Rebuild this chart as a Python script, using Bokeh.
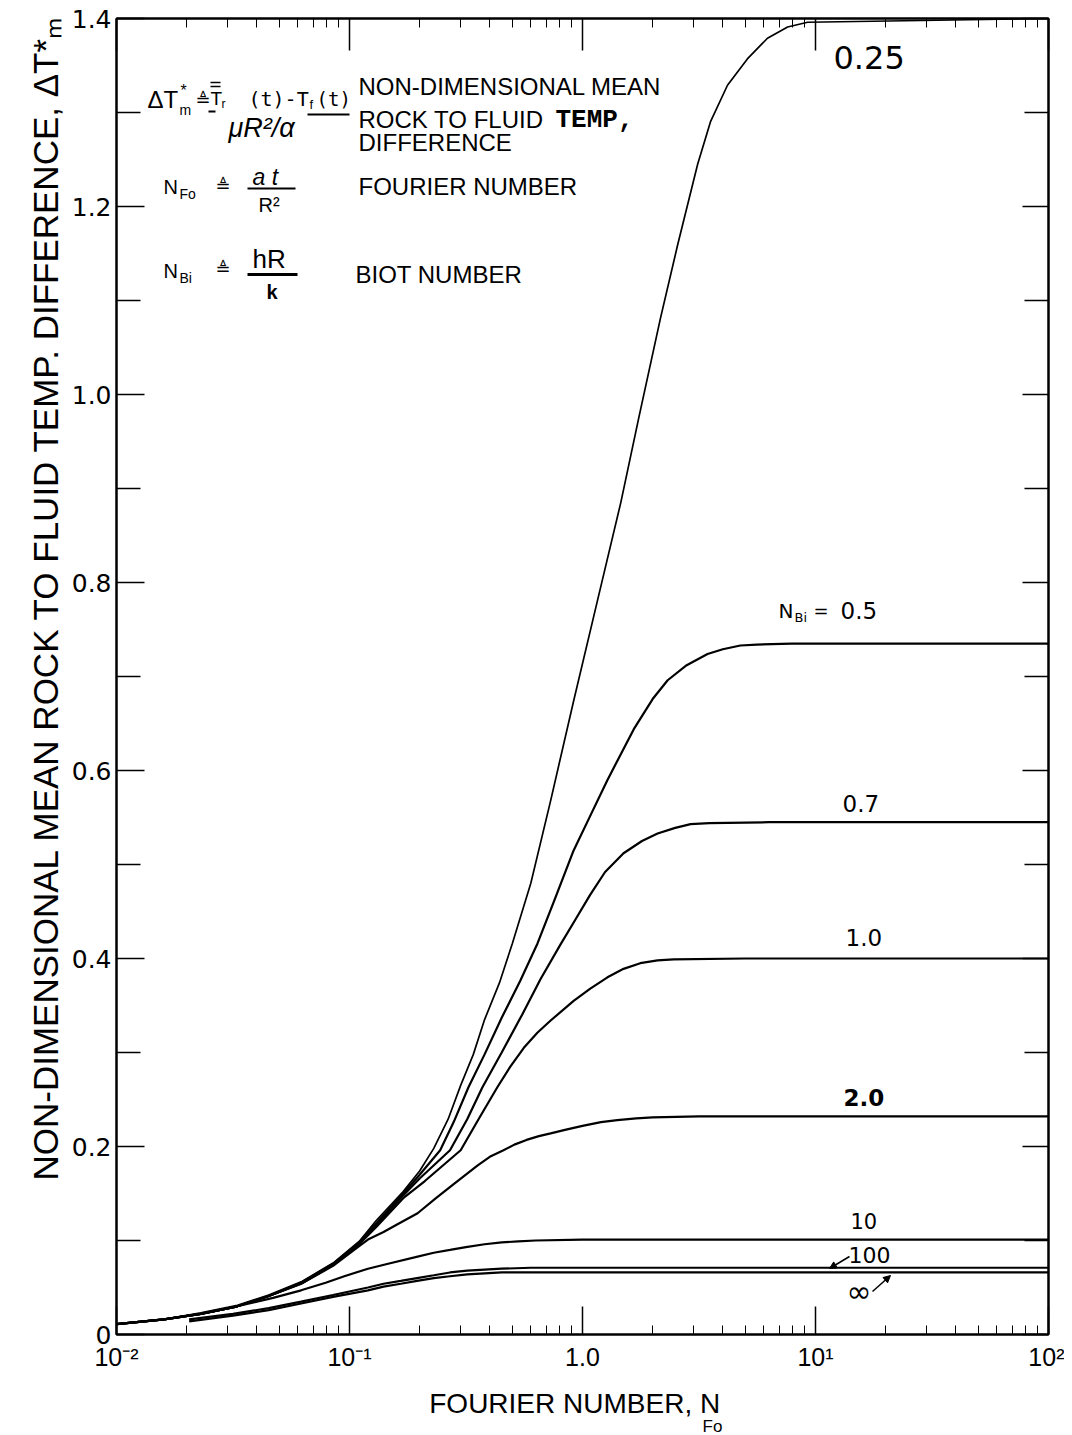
from bokeh.plotting import figure
from bokeh.models import (Range1d, LogAxis, LinearAxis, FixedTicker, Label, Title,
                          BoxAnnotation, Arrow, NormalHead)
from bokeh.embed import file_html
from bokeh.resources import INLINE

# ---------------- data ----------------
nfo_025 = [0.01, 0.016, 0.023, 0.033, 0.045, 0.062, 0.085, 0.11, 0.13, 0.17, 0.20, 0.23,
           0.265, 0.30, 0.34, 0.38, 0.44, 0.50, 0.60, 0.73, 0.916, 1.16, 1.46, 1.74, 2.16,
           2.56, 2.82, 3.12, 3.54, 4.19, 5.1, 6.22, 7.59, 9.25, 100]
dt_025 = [0.011, 0.016, 0.023, 0.031, 0.042, 0.056, 0.076, 0.099, 0.121, 0.152, 0.174, 0.198,
          0.229, 0.265, 0.298, 0.335, 0.374, 0.416, 0.480, 0.568, 0.674, 0.781, 0.885, 0.974,
          1.081, 1.159, 1.201, 1.245, 1.290, 1.329, 1.357, 1.379, 1.391, 1.396, 1.40]

nfo_05 = [0.01, 0.016, 0.023, 0.033, 0.045, 0.062, 0.085, 0.11, 0.13, 0.17, 0.20, 0.245,
          0.28, 0.324, 0.38, 0.45, 0.54, 0.641, 0.76, 0.916, 1.1, 1.28, 1.66, 2.0, 2.32, 2.8,
          3.44, 4.0, 4.76, 5.6, 7.9, 100]
dt_05 = [0.011, 0.016, 0.022, 0.030, 0.041, 0.055, 0.075, 0.098, 0.118, 0.150, 0.170, 0.196,
         0.226, 0.263, 0.298, 0.337, 0.376, 0.416, 0.463, 0.515, 0.556, 0.590, 0.644, 0.676,
         0.696, 0.712, 0.724, 0.729, 0.733, 0.734, 0.735, 0.735]

nfo_07 = [0.01, 0.016, 0.023, 0.033, 0.045, 0.062, 0.085, 0.11, 0.13, 0.17, 0.20, 0.27,
          0.32, 0.372, 0.45, 0.55, 0.66, 0.805, 0.93, 1.08, 1.25, 1.5, 1.8, 2.1, 2.5, 2.91,
          3.5, 6.3, 100]
dt_07 = [0.011, 0.016, 0.022, 0.030, 0.041, 0.055, 0.075, 0.097, 0.116, 0.148, 0.166, 0.196,
         0.229, 0.263, 0.300, 0.340, 0.378, 0.415, 0.441, 0.468, 0.492, 0.512, 0.525, 0.533,
         0.539, 0.543, 0.544, 0.545, 0.545]

nfo_10 = [0.01, 0.016, 0.023, 0.033, 0.045, 0.062, 0.085, 0.11, 0.13, 0.17, 0.21, 0.30,
          0.36, 0.431, 0.49, 0.56, 0.64, 0.73, 0.916, 1.08, 1.28, 1.5, 1.77, 2.1, 2.46, 5.0,
          100]
dt_10 = [0.011, 0.016, 0.022, 0.030, 0.041, 0.054, 0.074, 0.096, 0.114, 0.145, 0.163, 0.196,
         0.230, 0.263, 0.285, 0.305, 0.321, 0.334, 0.355, 0.368, 0.380, 0.389, 0.395, 0.398,
         0.399, 0.400, 0.400]

nfo_20 = [0.01, 0.016, 0.023, 0.033, 0.045, 0.062, 0.085, 0.11, 0.12, 0.14, 0.16, 0.196,
          0.235, 0.28, 0.355, 0.40, 0.458, 0.51, 0.575, 0.65, 0.73, 0.85, 1.0, 1.2, 1.41, 1.7,
          2.0, 3.16, 100]
dt_20 = [0.011, 0.016, 0.022, 0.030, 0.041, 0.054, 0.073, 0.094, 0.101, 0.109, 0.117, 0.129,
         0.145, 0.160, 0.180, 0.189, 0.196, 0.202, 0.207, 0.211, 0.214, 0.218, 0.222, 0.226,
         0.228, 0.230, 0.231, 0.232, 0.232]

nfo_100b = [0.01, 0.016, 0.023, 0.033, 0.047, 0.062, 0.079, 0.095, 0.12, 0.145, 0.19, 0.23,
            0.27, 0.316, 0.38, 0.45, 0.53, 0.63, 1.0, 100]
dt_100b = [0.011, 0.016, 0.022, 0.030, 0.039, 0.047, 0.055, 0.062, 0.070, 0.075, 0.082, 0.087,
           0.090, 0.093, 0.096, 0.098, 0.099, 0.100, 0.101, 0.101]

nfo_1000 = [0.0205, 0.0316, 0.045, 0.062, 0.085, 0.12, 0.14, 0.166, 0.195, 0.23, 0.27, 0.32,
            0.38, 0.45, 0.6, 1.0, 100]
dt_1000 = [0.016, 0.022, 0.028, 0.035, 0.042, 0.050, 0.054, 0.057, 0.060, 0.063, 0.066, 0.068,
           0.069, 0.070, 0.071, 0.071, 0.071]

nfo_inf = [0.0205, 0.0316, 0.045, 0.062, 0.085, 0.12, 0.14, 0.166, 0.195, 0.23, 0.27, 0.32,
           0.38, 0.45, 0.6, 1.0, 100]
dt_inf = [0.014, 0.020, 0.026, 0.033, 0.040, 0.047, 0.051, 0.054, 0.057, 0.060, 0.062, 0.064,
          0.065, 0.066, 0.066, 0.066, 0.066]

x_major = [0.01, 0.1, 1, 10, 100]
x_labels = ["10⁻²", "10⁻¹", "1.0", "10¹", "10²"]
y_major = [0, 0.2, 0.4, 0.6, 0.8, 1.0, 1.2, 1.4]
y_labels = ["0", "0.2", "0.4", "0.6", "0.8", "1.0", "1.2", "1.4"]
y_minor = [0.1, 0.3, 0.5, 0.7, 0.9, 1.1, 1.3]
x_minor = [m * 10.0 ** e for e in range(-2, 2) for m in range(2, 10)]

# ---------------- figure ----------------
W, H = 1064, 1435
FL, FT, FR, FB = 116, 18, 1048, 1334  # frame edges in page px

p = figure(width=W, height=H, x_axis_type="log",
           x_range=Range1d(0.01, 100), y_range=Range1d(0, 1.4),
           output_backend="svg", toolbar_location=None,
           min_border_left=FL, min_border_right=W - FR, min_border_top=FT,
           min_border_bottom=H - FB)
p.xgrid.visible = False
p.ygrid.visible = False
p.outline_line_color = "black"
p.outline_line_width = 2
p.background_fill_color = "white"
p.border_fill_color = "white"

xa = p.xaxis[0]
xa.ticker = FixedTicker(ticks=x_major, minor_ticks=x_minor)
xa.major_label_overrides = dict(zip(x_major, x_labels))
xa.major_tick_in, xa.major_tick_out = 28, 0
xa.minor_tick_in, xa.minor_tick_out = 9, 0
xa.major_tick_line_width = 1.5
xa.axis_line_width = 2
xa.major_label_text_font = "Liberation Sans"
xa.major_label_text_font_size = "25px"
xa.major_label_text_color = "black"
xa.major_label_standoff = 8
xa.axis_label = "FOURIER  NUMBER,  N"
xa.axis_label_text_font = "Liberation Sans"
xa.axis_label_text_font_size = "28px"
xa.axis_label_text_font_style = "normal"
xa.axis_label_text_color = "black"
xa.axis_label_standoff = 14

ya = p.yaxis[0]
ya.ticker = FixedTicker(ticks=y_major, minor_ticks=y_minor)
ya.major_label_overrides = dict(zip(y_major, y_labels))
ya.major_tick_in, ya.major_tick_out = 28, 0
ya.minor_tick_in, ya.minor_tick_out = 24, 0
ya.major_tick_line_width = 1.5
ya.minor_tick_line_width = 1.5
ya.axis_line_width = 2
ya.major_label_text_font = "DejaVu Sans"
ya.major_label_text_font_size = "25px"
ya.major_label_text_color = "black"
ya.major_label_standoff = 5

top = LogAxis(ticker=FixedTicker(ticks=x_major, minor_ticks=x_minor),
              major_tick_in=32, major_tick_out=0, minor_tick_in=9, minor_tick_out=0,
              major_tick_line_width=1.5, axis_line_width=2, major_label_standoff=0,
              major_label_overrides={t: "" for t in x_major})
p.add_layout(top, "above")
right = LinearAxis(ticker=FixedTicker(ticks=y_major, minor_ticks=y_minor),
                   major_tick_in=26, major_tick_out=0, minor_tick_in=24, minor_tick_out=0,
                   major_tick_line_width=1.5, minor_tick_line_width=1.5, axis_line_width=2,
                   major_label_standoff=0,
                   major_label_overrides={t: "" for t in y_major})
p.add_layout(right, "right")

# y-axis title (outermost left panel) and subscript of the x-axis title
p.add_layout(Title(text="NON-DIMENSIONAL MEAN ROCK TO FLUID TEMP. DIFFERENCE, ΔT*ₘ",
                   align="left", offset=FB - 1180, standoff=8, text_font="Liberation Sans",
                   text_font_size="35px", text_font_style="normal", text_color="black"),
             "left")
p.add_layout(Title(text="Fo", align="left", offset=586, standoff=-14,
                   text_font="Liberation Sans", text_font_size="17px",
                   text_font_style="normal", text_color="black"), "below")

# ---------------- curves ----------------
p.line(nfo_025, dt_025, line_color="black", line_width=1.7)
for xs, ys in [(nfo_05, dt_05), (nfo_07, dt_07), (nfo_10, dt_10), (nfo_20, dt_20),
               (nfo_100b, dt_100b), (nfo_1000, dt_1000), (nfo_inf, dt_inf)]:
    p.line(xs, ys, line_color="black", line_width=2.2)


# ---------------- annotations (page px -> frame screen px) ----------------
def put(text, X, Y, size=20, font="Liberation Sans", align="left", baseline="middle",
        style="normal"):
    p.add_layout(Label(x=X - FL, y=FB - Y, x_units="screen", y_units="screen", text=text,
                       text_font=font, text_font_size=f"{size}px", text_align=align,
                       text_baseline=baseline, text_font_style=style,
                       text_color="black"))


def bar(X0, X1, Y, th=2.0):
    p.add_layout(BoxAnnotation(left=X0 - FL, right=X1 - FL, top=FB - Y + th / 2,
                               bottom=FB - Y - th / 2, left_units="screen",
                               right_units="screen", top_units="screen",
                               bottom_units="screen", fill_color="black", fill_alpha=1,
                               line_color=None))


def arrow(X0, Y0, X1, Y1):
    p.add_layout(Arrow(end=NormalHead(size=7, fill_color="black", line_color="black"),
                       x_start=X0 - FL, y_start=FB - Y0, x_end=X1 - FL, y_end=FB - Y1,
                       start_units="screen", end_units="screen", line_width=1.5))


# definitions block
put("ΔT", 147, 99, 24)
put("*", 180, 90, 16)
put("m", 179, 109, 14)
put("≜", 195, 99, 18, font="DejaVu Sans")
bar(208, 215, 111, 2)
put("T", 210, 98, 19)
bar(210, 220, 82, 1.5)
bar(210, 220, 86, 1.5)
put("r", 221, 103, 12)
put("(t)-T", 248, 98, 20, font="DejaVu Sans Mono")
put("f", 309, 104, 13)
put("(t)", 316, 98, 19, font="DejaVu Sans Mono")
bar(307, 349, 114, 2)
put("μR²/α", 228, 127, 27, style="italic")

put("N", 163, 186, 20)
put("Fo", 179, 193, 14)
put("≜", 215, 185, 18, font="DejaVu Sans")
put("a t", 252, 176, 23, style="italic")
bar(247, 295, 188, 2)
put("R²", 258, 204, 20)

put("N", 163, 270, 20)
put("Bi", 179, 277, 14)
put("≜", 215, 268, 18, font="DejaVu Sans")
put("hR", 252, 258, 26)
bar(247, 297, 274, 3)
put("k", 266, 291, 20, style="bold")

put("NON-DIMENSIONAL MEAN", 358, 86, 24)
put("ROCK  TO FLUID", 358, 119, 24)
put("TEMP,", 555, 119, 26, font="Liberation Mono", style="bold")
put("DIFFERENCE", 358, 142, 24)
put("FOURIER NUMBER", 358, 186, 24)
put("BIOT  NUMBER", 355, 274, 24)

# curve labels
put("0.25", 833, 57, 32, font="DejaVu Sans")
put("N", 778, 610, 20, font="DejaVu Sans")
put("Bi", 794, 617, 13, font="DejaVu Sans")
put("=", 813, 610, 18, font="DejaVu Sans")
put("0.5", 840, 610, 23, font="DejaVu Sans")
put("0.7", 842, 803, 23, font="DejaVu Sans")
put("1.0", 845, 937, 23, font="DejaVu Sans")
put("2.0", 843, 1097, 23, font="DejaVu Sans", style="bold")
put("10", 850, 1220, 21, font="DejaVu Sans")
put("100", 848, 1254, 22, font="DejaVu Sans")
arrow(849, 1256, 829, 1268)
put("∞", 846, 1291, 30, font="DejaVu Sans")
arrow(872, 1291, 890, 1275)

open("out.html", "w").write(file_html(p, INLINE))
